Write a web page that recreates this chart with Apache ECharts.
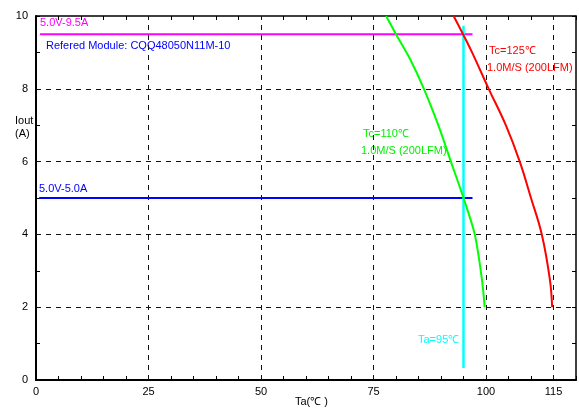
<!DOCTYPE html>
<html>
<head>
<meta charset="utf-8">
<script src="https://cdn.jsdelivr.net/npm/echarts@6/dist/echarts.min.js"></script>
<style>
  html, body { margin: 0; padding: 0; background: #fff; }
  #chart { width: 579px; height: 408px; }
</style>
</head>
<body>
<div id="chart"></div>
<script>
// x tick labels that are printed, and where the dashed grid sits
const xLabels = [0, 25, 50, 75, 100, 115];
const xGrid = [25, 50, 75, 100, 115];
const yGrid = [2, 4, 6, 8];

// derating curves [Ta, Iout]
const tc110 = [[77.8, 10], [80, 9.5], [83.2, 8.8], [86.2, 8], [89.4, 7], [92.2, 6], [95, 5], [97.5, 4], [99.1, 2.76], [99.7, 2]];
const tc125 = [[92.8, 10], [94.9, 9.5], [96.9, 9], [100.6, 8], [104.4, 7], [107.5, 6], [110, 5], [112.4, 4], [114.2, 2.76], [114.7, 2]];

// limit lines
const limit95 = [[0.9, 9.5], [97, 9.5]];
const limit50 = [[0.7, 5], [97, 5]];
const ta95 = [[95, 0.33], [95, 9.73]];

const font = "Liberation Sans, Arial, sans-serif";

const chart = echarts.init(document.getElementById("chart"));

const lineSeries = (name, data, color, smooth, width) => ({
  name: name,
  type: "line",
  data: data,
  smooth: smooth,
  symbol: "none",
  lineStyle: { color: color, width: width || 2 },
  silent: true,
  z: 5
});

const tick = { show: true, inside: true, length: 4, lineStyle: { color: "#000", width: 1 } };

const option = {
  animation: false,
  grid: { left: 36, right: 1, top: 16, bottom: 28 },
  xAxis: [
    {
      type: "value",
      position: "bottom",
      min: 0,
      max: 120,
      interval: 5,
      axisLine: { show: true, onZero: false, lineStyle: { color: "#000", width: 2 } },
      axisTick: tick,
      axisLabel: {
        color: "#000",
        fontFamily: font,
        fontSize: 11,
        margin: 6,
        formatter: v => (xLabels.indexOf(v) >= 0 ? String(v) : "")
      },
      splitLine: { show: false }
    },
    {
      type: "value",
      position: "top",
      min: 0,
      max: 120,
      interval: 5,
      axisLine: { show: true, onZero: false, lineStyle: { color: "#000", width: 1.5 } },
      axisTick: tick,
      axisLabel: { show: false },
      splitLine: { show: false }
    }
  ],
  yAxis: [
    {
      type: "value",
      position: "left",
      min: 0,
      max: 10,
      interval: 1,
      axisLine: { show: true, onZero: false, lineStyle: { color: "#000", width: 2 } },
      axisTick: tick,
      axisLabel: {
        color: "#000",
        fontFamily: font,
        fontSize: 11,
        margin: 8,
        formatter: v => (v % 2 === 0 ? String(v) : "")
      },
      splitLine: { show: false }
    },
    {
      type: "value",
      position: "right",
      min: 0,
      max: 10,
      interval: 1,
      axisLine: { show: true, onZero: false, lineStyle: { color: "#000", width: 1.5 } },
      axisTick: tick,
      axisLabel: { show: false },
      splitLine: { show: false }
    }
  ],
  series: [
    {
      type: "line",
      data: [],
      silent: true,
      markLine: {
        silent: true,
        symbol: "none",
        label: { show: false },
        lineStyle: { color: "#111", type: [5, 5], width: 1 },
        data: xGrid.map(v => ({ xAxis: v })).concat(yGrid.map(v => ({ yAxis: v })))
      },
      z: 1
    },
    lineSeries("5.0V-9.5A", limit95, "#ff00ff", false),
    lineSeries("5.0V-5.0A", limit50, "#0000ff", false),
    lineSeries("Ta=95", ta95, "#00ffff", false, 2.5),
    lineSeries("Tc=110", tc110, "#00ff00", 0.3),
    lineSeries("Tc=125", tc125, "#ff0000", 0.4)
  ],
  graphic: [
    { type: "text", left: 40, top: 17, style: { text: "5.0V-9.5A", fill: "#ff00ff", font: "11px " + font } },
    { type: "text", left: 46, top: 40, style: { text: "Refered Module: CQQ48050N11M-10", fill: "#0000ff", font: "11px " + font } },
    { type: "text", left: 489, top: 45, style: { text: "Tc=125\u2103", fill: "#ff0000", font: "11px " + font } },
    { type: "text", left: 487, top: 62, style: { text: "1.0M/S (200LFM)", fill: "#ff0000", font: "11px " + font } },
    { type: "text", left: 363, top: 128, style: { text: "Tc=110\u2103", fill: "#00f000", font: "11px " + font } },
    { type: "text", left: 361, top: 145, style: { text: "1.0M/S (200LFM)", fill: "#00f000", font: "11px " + font } },
    { type: "text", left: 39, top: 183, style: { text: "5.0V-5.0A", fill: "#0000ff", font: "11px " + font } },
    { type: "text", left: 418, top: 334, style: { text: "Ta=95\u2103", fill: "#00ffff", font: "11px " + font } },
    { type: "text", left: 15, top: 114, style: { text: "Iout\n(A)", fill: "#000", font: "11px " + font, align: "center", lineHeight: 13, x: 8 } },
    { type: "text", left: 295, top: 396, style: { text: "Ta(\u2103 )", fill: "#000", font: "11px " + font } }
  ]
};

chart.setOption(option);
</script>
</body>
</html>
